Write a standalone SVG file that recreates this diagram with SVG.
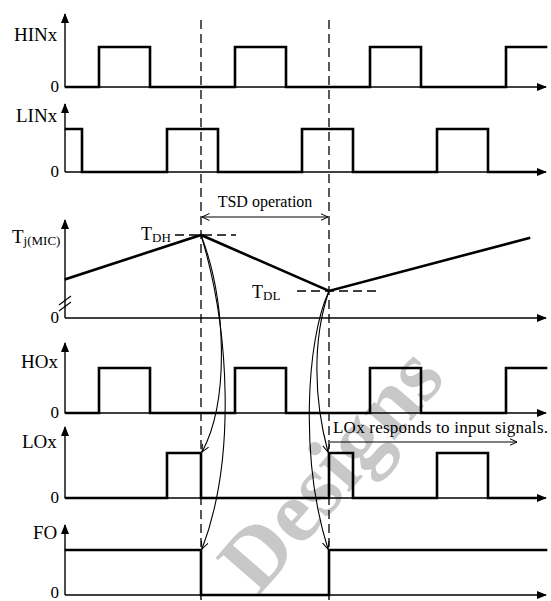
<svg xmlns="http://www.w3.org/2000/svg" width="551" height="601" viewBox="0 0 551 601">
<defs>
<marker id="ax" viewBox="0 0 10 8" refX="9" refY="4" markerWidth="10" markerHeight="8" markerUnits="userSpaceOnUse" orient="auto"><path d="M0,0 L10,4 L0,8 Z" fill="#000"/></marker>
<marker id="open" viewBox="0 0 8 8" refX="7.5" refY="4" markerWidth="8" markerHeight="8" markerUnits="userSpaceOnUse" orient="auto"><path d="M0,0.5 L7.5,4 L0,7.5" fill="none" stroke="#000" stroke-width="1"/></marker>
<marker id="openS" viewBox="0 0 8 8" refX="0.5" refY="4" markerWidth="8" markerHeight="8" markerUnits="userSpaceOnUse" orient="auto"><path d="M8,0.5 L0.5,4 L8,7.5" fill="none" stroke="#000" stroke-width="1"/></marker>
</defs>
<style>
.axis{fill:none;stroke:#000;stroke-width:1.4}
.sig{fill:none;stroke:#000;stroke-width:2.6;stroke-linejoin:miter;stroke-linecap:square}
.dash{fill:none;stroke:#000;stroke-width:1.3;stroke-dasharray:9,5}
.thin{fill:none;stroke:#000;stroke-width:1.1}
.lbl{font-family:"Liberation Serif","Times New Roman",serif;font-size:19px;fill:#000}
.zero{font-family:"Liberation Serif","Times New Roman",serif;font-size:17px;fill:#000;text-anchor:end}
.note{font-family:"Liberation Serif","Times New Roman",serif;font-size:16px;fill:#000}
.sub{font-size:13px}
.wm{font-family:"Liberation Serif","Times New Roman",serif;font-weight:bold;font-size:88px;fill:#c8c8c8}
</style>
<text class="wm" transform="translate(258,597) rotate(-49)">Designs</text>

<g id="hinx">
<path class="axis" d="M65,87 V14" marker-end="url(#ax)"/>
<path class="axis" d="M65,87 H546" marker-end="url(#ax)"/>
<path class="sig" d="M66,87 H99 V47 H150 V87 H235 V47 H286 V87 H370 V47 H421 V87 H506 V47 H546"/>
<text class="lbl" x="14" y="41">HINx</text>
<text class="zero" x="59" y="92">0</text>
</g>

<g id="linx">
<path class="axis" d="M65,172 V104" marker-end="url(#ax)"/>
<path class="axis" d="M65,172 H546" marker-end="url(#ax)"/>
<path class="sig" d="M66,129 H82 V172 H167 V129 H218 V172 H302 V129 H353 V172 H437 V129 H488 V172 H538"/>
<text class="lbl" x="16" y="122">LINx</text>
<text class="zero" x="59" y="177">0</text>
</g>

<g id="tj">
<path class="axis" d="M65,318 V220" marker-end="url(#ax)"/>
<path class="axis" d="M65,318 H546" marker-end="url(#ax)"/>
<path class="thin" d="M59,305 L71,296 M59,311 L71,302"/>
<path class="sig" d="M66,279 L201,235 L329,291 L529,238" stroke-linejoin="round"/>
<text class="lbl" x="12" y="243">T<tspan class="sub" dy="2">j(MIC)</tspan></text>
<text class="zero" x="59" y="323">0</text>
<path class="dash" d="M175,235 H236"/>
<path class="dash" d="M297,291 H376"/>
<text class="lbl" x="141" y="240" style="font-size:18px">T<tspan class="sub" dy="2">DH</tspan></text>
<text class="lbl" x="252" y="298" style="font-size:18px">T<tspan class="sub" dy="2">DL</tspan></text>
</g>

<g id="hox">
<path class="axis" d="M65,413 V343" marker-end="url(#ax)"/>
<path class="axis" d="M65,413 H546" marker-end="url(#ax)"/>
<path class="sig" d="M66,413 H99 V368 H150 V413 H235 V368 H286 V413 H370 V368 H421 V413 H506 V368 H546"/>
<text class="lbl" x="21" y="368">HOx</text>
<text class="zero" x="59" y="418">0</text>
</g>

<g id="lox">
<path class="axis" d="M65,498 V427" marker-end="url(#ax)"/>
<path class="axis" d="M65,498 H546" marker-end="url(#ax)"/>
<path class="sig" d="M66,498 H167 V453 H201 V498 H329 V453 H353 V498 H437 V453 H488 V498 H538"/>
<text class="lbl" x="22" y="448">LOx</text>
<text class="zero" x="59" y="503">0</text>
</g>

<g id="fo">
<path class="axis" d="M65,595 V525" marker-end="url(#ax)"/>
<path class="axis" d="M65,595 H546" marker-end="url(#ax)"/>
<path class="sig" d="M66,550 H201 V595 H329 V550 H546"/>
<path class="axis" d="M201,595 V600 M329,595 V600"/>
<text class="lbl" x="33" y="539">FO</text>
<text class="zero" x="59" y="598">0</text>
</g>

<g id="connectors">
<path class="dash" d="M201,20 V550"/>
<path class="dash" d="M329,20 V550"/>
<path class="thin" d="M202,217 H328" marker-start="url(#openS)" marker-end="url(#open)"/>
<text class="note" x="265" y="207" text-anchor="middle">TSD operation</text>
<path class="thin" d="M330,442 H517" marker-end="url(#open)"/>
<text class="note" x="333" y="433" style="font-size:17px" textLength="215">LOx responds to input signals.</text>
<path class="thin" d="M201,235 C226,300 230,400 202,452" marker-end="url(#open)"/>
<path class="thin" d="M201,235 C230,330 236,460 202,549" marker-end="url(#open)"/>
<path class="thin" d="M329,291 C312,340 314,400 328,452" marker-end="url(#open)"/>
<path class="thin" d="M329,291 C306,340 300,460 328,549" marker-end="url(#open)"/>
</g>
</svg>
